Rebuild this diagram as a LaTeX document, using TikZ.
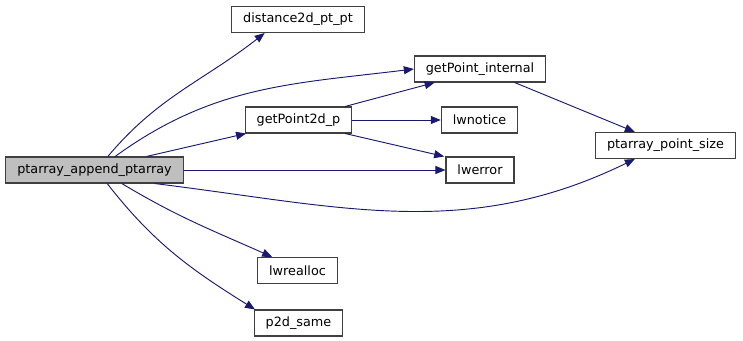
\documentclass[tikz,border=0pt]{standalone}
\usepackage{fontspec}
\setmainfont{DejaVu Sans}
\usetikzlibrary{arrows.meta}
\definecolor{callblue}{RGB}{25, 25, 112}
\definecolor{boxgray}{RGB}{191, 191, 191}
\definecolor{boxedge}{RGB}{64, 64, 64}
\tikzset{
  fnbox/.style={draw=boxedge, line width=0.8pt, fill=white, minimum height=19.5pt,
                inner xsep=8.6pt, inner ysep=0pt, font=\fontsize{9.6}{11}\selectfont},
  rootbox/.style={fnbox, fill=boxgray},
  callarrow/.style={callblue, line width=0.7pt, -{Triangle[length=7.5pt, width=6pt]}}
}

\begin{document}
\begin{tikzpicture}[x=0.75pt, y=-0.75pt]
  \useasboundingbox (0,0) rectangle (743,341);

  % 调用者
  \node[rootbox] (append) at (94.5,170) {ptarray\_append\_ptarray};

  % 第二列
  \node[fnbox] (dist)    at (298,19.5)  {distance2d\_pt\_pt};
  \node[fnbox] (gp2d)    at (298.5,120) {getPoint2d\_p};
  \node[fnbox] (realloc) at (297.5,270.5) {lwrealloc};
  \node[fnbox] (same)    at (298.5,323) {p2d\_same};

  % 第三列
  \node[fnbox] (gpint)  at (480,69)    {getPoint\_internal};
  \node[fnbox] (notice) at (479.5,120) {lwnotice};
  \node[fnbox] (err)    at (480,170)   {lwerror};

  % 第四列
  \node[fnbox] (ptsize) at (665.5,145.5) {ptarray\_point\_size};

  % ptarray_append_ptarray 的调用
  \draw[callarrow] ([xshift=10pt]append.north) to[out=50, in=218] ([xshift=-25pt]dist.south);
  \draw[callarrow] ([xshift=15.5pt]append.north) to[out=36, in=187] (gpint.west);
  \draw[callarrow] ([xshift=39pt]append.north) -- ([xshift=1pt]gp2d.south west);
  \draw[callarrow] (append.east) -- (err.west);
  \draw[callarrow] ([xshift=45pt]append.south) to[out=-7, in=206] ([xshift=-23pt]ptsize.south);
  \draw[callarrow] ([xshift=20.5pt]append.south) to[out=-31, in=156] ([xshift=-19pt]realloc.north);
  \draw[callarrow] ([xshift=9.5pt]append.south) to[out=-52, in=148] ([xshift=1pt]same.north west);

  % getPoint2d_p 的调用
  \draw[callarrow] ([xshift=35pt]gp2d.north) -- ([xshift=-34pt]gpint.south);
  \draw[callarrow] (gp2d.east) -- (notice.west);
  \draw[callarrow] ([xshift=35pt]gp2d.south) -- ([xshift=-1pt]err.north west);

  % getPoint_internal 的调用
  \draw[callarrow] ([xshift=26pt]gpint.south) -- ([xshift=-23pt]ptsize.north);
\end{tikzpicture}
\end{document}
